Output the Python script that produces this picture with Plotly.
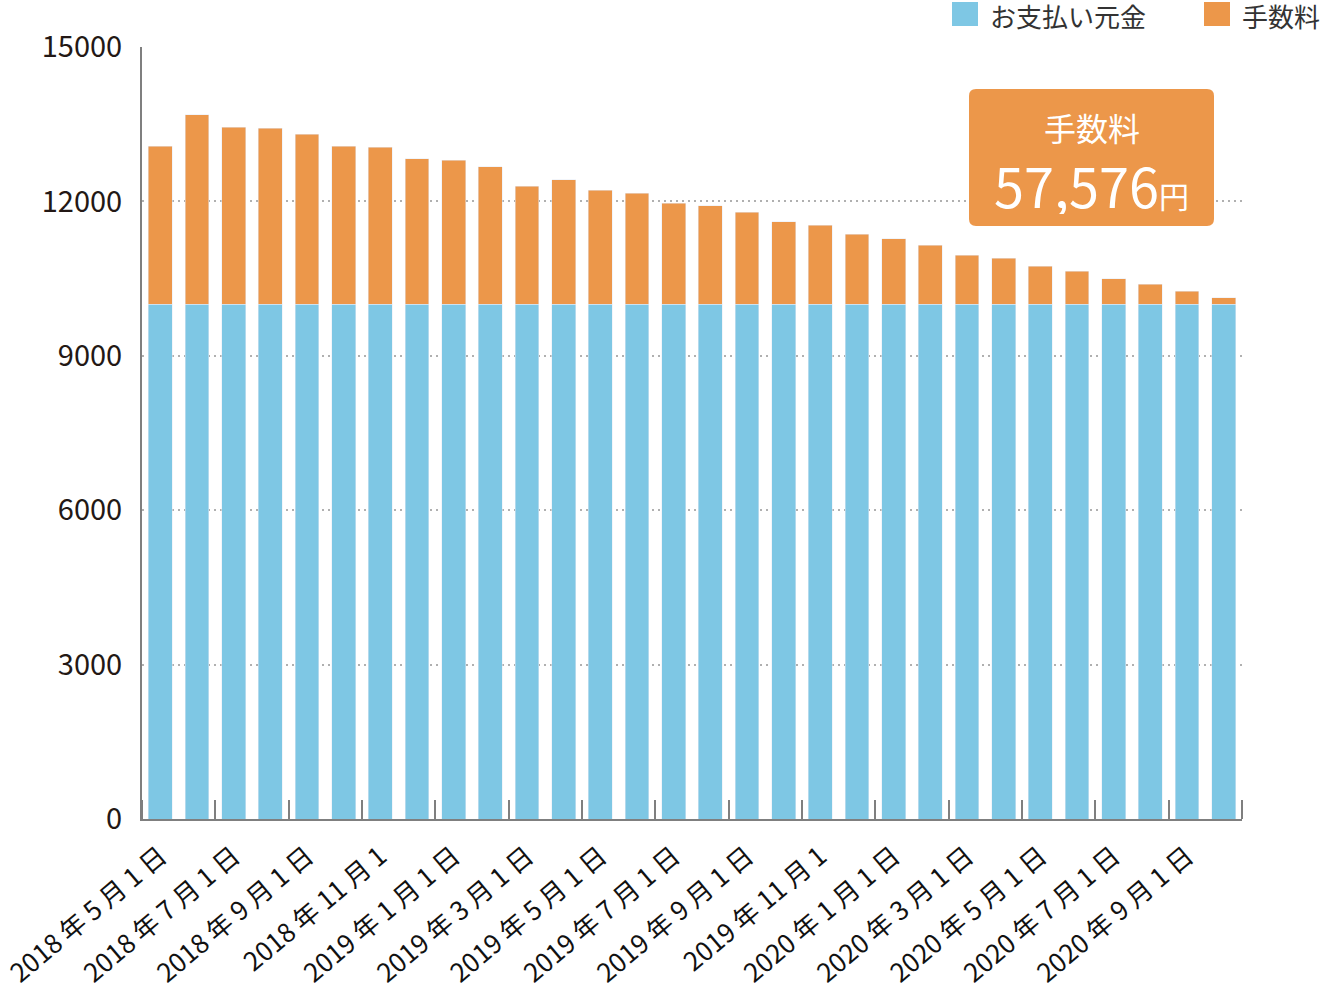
import plotly.graph_objects as go

# monthly payments, May 2018 - Oct 2020
months = [
    "2018-05", "2018-06", "2018-07", "2018-08", "2018-09", "2018-10",
    "2018-11", "2018-12", "2019-01", "2019-02", "2019-03", "2019-04",
    "2019-05", "2019-06", "2019-07", "2019-08", "2019-09", "2019-10",
    "2019-11", "2019-12", "2020-01", "2020-02", "2020-03", "2020-04",
    "2020-05", "2020-06", "2020-07", "2020-08", "2020-09", "2020-10",
]
principal = [10000] * 30
fees = [
    3076, 3684, 3445, 3426, 3309, 3076, 3049, 2830, 2797, 2674,
    2299, 2422, 2221, 2163, 1969, 1915, 1785, 1605, 1533, 1358,
    1275, 1145, 950, 892, 742, 640, 498, 387, 257, 130,
]
tick_labels = [
    "2018 年 5 月 1 日", "2018 年 7 月 1 日", "2018 年 9 月 1 日", "2018 年 11 月 1",
    "2019 年 1 月 1 日", "2019 年 3 月 1 日", "2019 年 5 月 1 日", "2019 年 7 月 1 日",
    "2019 年 9 月 1 日", "2019 年 11 月 1", "2020 年 1 月 1 日", "2020 年 3 月 1 日",
    "2020 年 5 月 1 日", "2020 年 7 月 1 日", "2020 年 9 月 1 日",
]
fee_total = "57,576"

BLUE = "#7EC7E4"
ORANGE = "#EC974A"
FONT = "Noto Sans CJK JP"

W, H = 1320, 988
L, R, T, B = 142, 78, 47, 169
PW, PH = W - L - R, H - T - B


def px(x):
    return (x - L) / PW


def py(y):
    return (H - B - y) / PH


idx = list(range(len(months)))

fig = go.Figure()
fig.add_trace(go.Bar(x=idx, y=principal, name="お支払い元金", marker_color=BLUE,
                     customdata=months, showlegend=False))
fig.add_trace(go.Bar(x=idx, y=fees, name="手数料", marker_color=ORANGE,
                     customdata=months, showlegend=False))

# custom legend (big square swatches)
legend_items = [("お支払い元金", BLUE, 952), ("手数料", ORANGE, 1204)]
for name, color, x0 in legend_items:
    fig.add_shape(type="rect", xref="paper", yref="paper",
                  x0=px(x0), x1=px(x0 + 26), y0=py(26), y1=py(2),
                  fillcolor=color, line_width=0, layer="above")
    fig.add_annotation(text=name, xref="paper", yref="paper",
                       x=px(x0 + 36), y=py(15), xanchor="left", yanchor="middle",
                       showarrow=False, font=dict(family=FONT, size=26, color="#333333"))

# total fee callout box with rounded corners
bx0, bx1, by0, by1, r = 969, 1214, 89, 226, 7
path = (
    f"M {px(bx0 + r)},{py(by0)} L {px(bx1 - r)},{py(by0)} "
    f"Q {px(bx1)},{py(by0)} {px(bx1)},{py(by0 + r)} "
    f"L {px(bx1)},{py(by1 - r)} Q {px(bx1)},{py(by1)} {px(bx1 - r)},{py(by1)} "
    f"L {px(bx0 + r)},{py(by1)} Q {px(bx0)},{py(by1)} {px(bx0)},{py(by1 - r)} "
    f"L {px(bx0)},{py(by0 + r)} Q {px(bx0)},{py(by0)} {px(bx0 + r)},{py(by0)} Z"
)
fig.add_shape(type="path", xref="paper", yref="paper", path=path,
              fillcolor=ORANGE, line_width=0, layer="above")
fig.add_annotation(text="手数料", xref="paper", yref="paper",
                   x=px((bx0 + bx1) / 2), y=py(127), xanchor="center", yanchor="middle",
                   height=38, showarrow=False,
                   font=dict(family=FONT, size=32, color="white"))
fig.add_annotation(text=f"{fee_total}<span style='font-size:30px'>円</span>",
                   xref="paper", yref="paper",
                   x=px((bx0 + bx1) / 2), y=py(184), xanchor="center", yanchor="middle",
                   height=60, showarrow=False,
                   font=dict(family=FONT, size=54, color="white"))

fig.update_layout(
    barmode="stack",
    bargap=0.35,
    width=W, height=H,
    margin=dict(l=L, r=R, t=T, b=B, autoexpand=False),
    plot_bgcolor="white",
    paper_bgcolor="white",
    font=dict(family=FONT, color="#231815"),
)
fig.update_xaxes(
    range=[-0.5, 29.5],
    tickvals=idx[::2],
    ticktext=tick_labels,
    tickangle=-40,
    ticks="",
    ticklabelstandoff=10,
    tickfont=dict(size=26, color="#111111"),
    showline=True, linecolor="#7f7f7f", linewidth=2,
    showgrid=False, zeroline=False,
    minor=dict(ticks="inside", ticklen=19, tickwidth=2, tickcolor="#7f7f7f",
               tick0=1.5, dtick=2, showgrid=False),
)
fig.update_yaxes(
    range=[0, 15000],
    dtick=3000,
    tickformat="d",
    tickfont=dict(size=29, color="#231815"),
    ticklabelstandoff=12,
    showline=True, linecolor="#7f7f7f", linewidth=2,
    showgrid=True, gridcolor="#b0b0b0", gridwidth=2, griddash="2px,4px",
    zeroline=False,
)

# drop the default 8px page margin so the figure fills the window
fig.write_html("out.html", config={"displayModeBar": False},
               post_script="document.body.style.margin='0';")
